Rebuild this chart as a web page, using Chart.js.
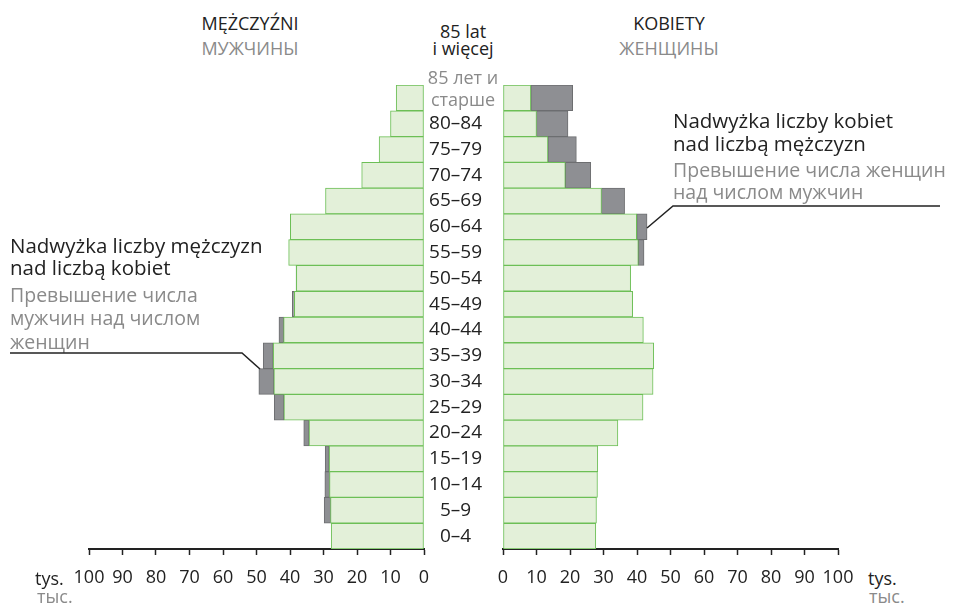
<!DOCTYPE html>
<html>
<head>
<meta charset="utf-8">
<script src="https://cdn.jsdelivr.net/npm/chart.js@4"></script>
<style>
  body { margin: 0; background: #fff; font-family: "Open Sans", sans-serif; }
  #page { position: relative; width: 955px; height: 606px; overflow: hidden; }
  canvas { position: absolute; }
  .t { position: absolute; font-size: 18px; color: #222; white-space: nowrap; line-height: 1; }
  .n { font-size: 20.5px; }
  .m { font-size: 19.5px; }
  .c { transform: translate(-50%, -50%); }
  .l { transform: translate(0, -50%); }
  .g { color: #8a8a8a; }
</style>
</head>
<body>
<div id="page">
  <canvas id="men" width="375" height="514" style="left:59px;top:80px"></canvas>
  <canvas id="women" width="444" height="514" style="left:424px;top:80px"></canvas>

  <div class="t c" style="left:250px;top:23px">MĘŻCZYŹNI</div>
  <div class="t c g" style="left:250px;top:48px">МУЖЧИНЫ</div>
  <div class="t c" style="left:669px;top:23px">KOBIETY</div>
  <div class="t c g" style="left:669px;top:48px">ЖЕНЩИНЫ</div>
  <div class="t c" style="left:463px;top:31px">85 lat</div>
  <div class="t c" style="left:463px;top:48px">i więcej</div>
  <div class="t c g" style="left:463px;top:77px">85 лет и</div>
  <div class="t c g" style="left:463px;top:99px">старше</div>

  <div class="t l n" style="left:673px;top:120px">Nadwyżka liczby kobiet</div>
  <div class="t l n" style="left:673px;top:143px">nad liczbą mężczyzn</div>
  <div class="t l m g" style="left:673px;top:170px">Превышение числа женщин</div>
  <div class="t l m g" style="left:673px;top:192px">над числом мужчин</div>

  <div class="t l n" style="left:10px;top:245px">Nadwyżka liczby mężczyzn</div>
  <div class="t l n" style="left:10px;top:267px">nad liczbą kobiet</div>
  <div class="t l m g" style="left:10px;top:295px">Превышение числа</div>
  <div class="t l m g" style="left:10px;top:318px">мужчин над числом</div>
  <div class="t l m g" style="left:10px;top:342px">женщин</div>

  <div class="t l" style="left:35px;top:578px">tys.</div>
  <div class="t l g" style="left:37px;top:596px">тыс.</div>
  <div class="t l" style="left:868px;top:578px">tys.</div>
  <div class="t l g" style="left:869px;top:596px">тыс.</div>

  <svg width="955" height="606" style="position:absolute;left:0;top:0;pointer-events:none">
    <polyline points="940,206 673,206 647,228" fill="none" stroke="#222" stroke-width="1.5"/>
    <polyline points="10,353 242,353 260,369" fill="none" stroke="#222" stroke-width="1.5"/>
  </svg>
</div>

<script>
// age groups, top row first
const ageGroups = ['85+', '80–84', '75–79', '70–74', '65–69', '60–64', '55–59', '50–54', '45–49',
  '40–44', '35–39', '30–34', '25–29', '20–24', '15–19', '10–14', '5–9', '0–4'];

// population in thousands
const men = [8.3, 10.0, 13.4, 18.6, 29.4, 39.9, 40.4, 38.2, 39.3,
  43.3, 48.0, 49.3, 44.7, 35.9, 29.5, 29.6, 29.8, 27.7];
const women = [20.8, 19.4, 21.9, 26.2, 36.3, 43.0, 42.1, 38.1, 38.7,
  41.9, 45.0, 44.8, 41.8, 34.3, 28.3, 28.2, 27.9, 27.7];

const xTicks = [0, 10, 20, 30, 40, 50, 60, 70, 80, 90, 100];

const green = '#e3f0d9';
const greenLine = '#6cbf56';
const grey = '#8e8f93';
const greyLine = '#6d6e70';
const font = 'Open Sans';

const common = men.map((m, i) => Math.min(m, women[i]));
const menExcess = men.map((m, i) => m - common[i]);
const womenExcess = women.map((w, i) => w - common[i]);

function datasets(excess) {
  return [{
    data: common,
    backgroundColor: green,
    borderColor: greenLine,
    borderWidth: 1,
    borderSkipped: false,
    barPercentage: 1,
    categoryPercentage: 1
  }, {
    data: excess,
    backgroundColor: grey,
    borderColor: greyLine,
    borderWidth: 1,
    borderSkipped: false,
    barPercentage: 1,
    categoryPercentage: 1
  }];
}

function xScale(reverse) {
  return {
    type: 'linear',
    stacked: true,
    reverse: reverse,
    min: 0,
    max: 100,
    afterBuildTicks: s => { s.ticks = xTicks.map(v => ({ value: v })); },
    afterFit: s => { s.height = 45; },
    grid: { drawOnChartArea: false, drawTicks: true, tickLength: 6, tickColor: '#222', tickWidth: 1.5 },
    border: { display: true, color: '#222', width: 2 },
    ticks: {
      color: '#222', padding: 12, autoSkip: false, maxRotation: 0, minRotation: 0,
      font: { family: font, size: 18 }
    }
  };
}

const baseOptions = {
  indexAxis: 'y',
  responsive: false,
  animation: false,
  plugins: { legend: { display: false }, tooltip: { enabled: false } }
};

new Chart(document.getElementById('men'), {
  type: 'bar',
  data: { labels: ageGroups, datasets: datasets(menExcess) },
  options: {
    ...baseOptions,
    layout: { padding: { left: 30, right: 10, top: 5, bottom: 0 } },
    scales: {
      x: xScale(true),
      y: { stacked: true, display: false }
    }
  }
});

new Chart(document.getElementById('women'), {
  type: 'bar',
  data: { labels: ageGroups, datasets: datasets(womenExcess) },
  options: {
    ...baseOptions,
    layout: { padding: { left: 0, right: 30, top: 5, bottom: 0 } },
    scales: {
      x: xScale(false),
      y: {
        stacked: true,
        position: 'left',
        afterFit: s => { s.width = 79; s.paddingTop = 0; s.paddingBottom = 0; },
        grid: { display: false },
        border: { display: false },
        ticks: {
          crossAlign: 'center',
          autoSkip: false,
          padding: 13,
          color: '#222',
          font: { family: font, size: 19 },
          callback: (v, i) => i === 0 ? '' : ageGroups[i]
        }
      }
    }
  }
});
</script>
</body>
</html>
